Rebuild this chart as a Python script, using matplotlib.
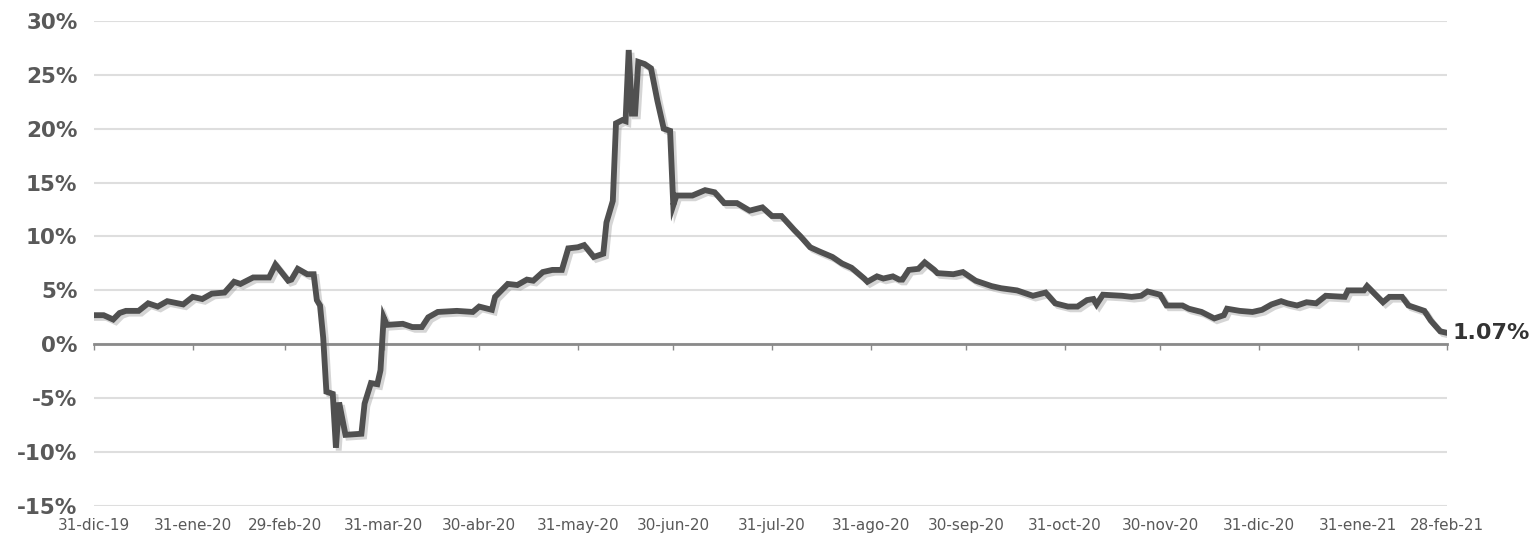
import matplotlib
matplotlib.use("Agg")
import matplotlib.pyplot as plt
import matplotlib.patheffects as pe
import pandas as pd

# fechas y variacion (%)
fechas = [
    "2019-12-31", "2020-01-03", "2020-01-06", "2020-01-08", "2020-01-10", "2020-01-14",
    "2020-01-17", "2020-01-20", "2020-01-23", "2020-01-28", "2020-01-31", "2020-02-03",
    "2020-02-06", "2020-02-10", "2020-02-13", "2020-02-15", "2020-02-19", "2020-02-24",
    "2020-02-26", "2020-03-01", "2020-03-02", "2020-03-04", "2020-03-07", "2020-03-09",
    "2020-03-10", "2020-03-11", "2020-03-12", "2020-03-13", "2020-03-15", "2020-03-16",
    "2020-03-17", "2020-03-19", "2020-03-24", "2020-03-25", "2020-03-27", "2020-03-29",
    "2020-03-30", "2020-03-31", "2020-04-01", "2020-04-06", "2020-04-09", "2020-04-12",
    "2020-04-14", "2020-04-17", "2020-04-23", "2020-04-28", "2020-04-30", "2020-05-04",
    "2020-05-05", "2020-05-09", "2020-05-12", "2020-05-15", "2020-05-17", "2020-05-20",
    "2020-05-23", "2020-05-26", "2020-05-28", "2020-05-31", "2020-06-02", "2020-06-05",
    "2020-06-08", "2020-06-09", "2020-06-11", "2020-06-12", "2020-06-14", "2020-06-15",
    "2020-06-16", "2020-06-17", "2020-06-18", "2020-06-19", "2020-06-21", "2020-06-23",
    "2020-06-25", "2020-06-27", "2020-06-29", "2020-06-30", "2020-07-01", "2020-07-06",
    "2020-07-10", "2020-07-13", "2020-07-16", "2020-07-20", "2020-07-24", "2020-07-28",
    "2020-07-31", "2020-08-03", "2020-08-07", "2020-08-09", "2020-08-12", "2020-08-15",
    "2020-08-19", "2020-08-22", "2020-08-25", "2020-08-29", "2020-08-30", "2020-09-02",
    "2020-09-04", "2020-09-07", "2020-09-09", "2020-09-10", "2020-09-12", "2020-09-15",
    "2020-09-17", "2020-09-20", "2020-09-21", "2020-09-26", "2020-09-29", "2020-10-03",
    "2020-10-06", "2020-10-08", "2020-10-11", "2020-10-16", "2020-10-21", "2020-10-25",
    "2020-10-28", "2020-11-01", "2020-11-04", "2020-11-07", "2020-11-09", "2020-11-10",
    "2020-11-12", "2020-11-18", "2020-11-21", "2020-11-24", "2020-11-26", "2020-11-30",
    "2020-12-02", "2020-12-07", "2020-12-09", "2020-12-13", "2020-12-17", "2020-12-20",
    "2020-12-21", "2020-12-25", "2020-12-29", "2021-01-01", "2021-01-04", "2021-01-07",
    "2021-01-09", "2021-01-12", "2021-01-15", "2021-01-18", "2021-01-21", "2021-01-27",
    "2021-01-28", "2021-02-02", "2021-02-03", "2021-02-06", "2021-02-08", "2021-02-10",
    "2021-02-14", "2021-02-16", "2021-02-21", "2021-02-23", "2021-02-26", "2021-02-28",
]
valores = [
    2.7, 2.7, 2.3, 2.9, 3.1, 3.1,
    3.8, 3.5, 4.0, 3.7, 4.4, 4.2,
    4.7, 4.8, 5.8, 5.6, 6.2, 6.2,
    7.4, 5.9, 6.0, 7.0, 6.5, 6.5,
    4.1, 3.6, 0.6, -4.4, -4.6, -9.6,
    -5.4, -8.4, -8.3, -5.5, -3.6, -3.7,
    -2.4, 2.5, 1.8, 1.9, 1.6, 1.6,
    2.5, 3.0, 3.1, 3.0, 3.5, 3.2,
    4.4, 5.6, 5.5, 6.0, 5.9, 6.7,
    6.9, 6.9, 8.9, 9.0, 9.2, 8.1,
    8.4, 11.3, 13.3, 20.5, 20.8, 20.7,
    27.3, 21.4, 21.4, 26.2, 26.0, 25.6,
    22.6, 20.0, 19.8, 12.9, 13.8, 13.8,
    14.3, 14.1, 13.1, 13.1, 12.4, 12.7,
    11.9, 11.9, 10.6, 10.0, 9.0, 8.6,
    8.1, 7.5, 7.1, 6.1, 5.8, 6.3,
    6.1, 6.3, 6.0, 6.0, 6.9, 7.0,
    7.6, 6.9, 6.6, 6.5, 6.7, 5.9,
    5.6, 5.4, 5.2, 5.0, 4.5, 4.8,
    3.8, 3.5, 3.5, 4.1, 4.2, 3.7,
    4.6, 4.5, 4.4, 4.5, 4.9, 4.6,
    3.6, 3.6, 3.3, 3.0, 2.4, 2.7,
    3.3, 3.1, 3.0, 3.2, 3.7, 4.0,
    3.8, 3.6, 3.9, 3.8, 4.5, 4.4,
    5.0, 5.0, 5.4, 4.5, 3.9, 4.4,
    4.4, 3.6, 3.1, 2.2, 1.2, 1.07,
]

tick_fechas = ["2019-12-31", "2020-01-31", "2020-02-29", "2020-03-31", "2020-04-30",
               "2020-05-31", "2020-06-30", "2020-07-31", "2020-08-31", "2020-09-30",
               "2020-10-31", "2020-11-30", "2020-12-31", "2021-01-31", "2021-02-28"]
tick_labels = ["31-dic-19", "31-ene-20", "29-feb-20", "31-mar-20", "30-abr-20",
               "31-may-20", "30-jun-20", "31-jul-20", "31-ago-20", "30-sep-20",
               "31-oct-20", "30-nov-20", "31-dic-20", "31-ene-21", "28-feb-21"]
y_ticks = [-15, -10, -5, 0, 5, 10, 15, 20, 25, 30]

x = pd.to_datetime(fechas)
xt = pd.to_datetime(tick_fechas)

plt.rcParams['font.family'] = ['DejaVu Sans']

fig = plt.figure(figsize=(15.37, 5.36), dpi=100)
ax = fig.add_axes([0.0612, 0.056, 0.88, 0.905])

ax.plot(x, valores, color='#505050', linewidth=4.2, solid_joinstyle='miter',
        path_effects=[pe.SimpleLineShadow(offset=(2, -2), shadow_color='#888888', alpha=0.35),
                      pe.Normal()], zorder=3)

ax.set_ylim(-15, 30)
ax.set_xlim(xt[0], xt[-1])
ax.set_yticks(y_ticks)
ax.set_yticklabels([f"{v}%" for v in y_ticks], fontsize=15.5, fontweight='bold', color='#595959')
ax.yaxis.grid(True, color='#dedede', linewidth=1.5)
ax.set_axisbelow(True)

for s in ['top', 'right', 'left']:
    ax.spines[s].set_visible(False)
ax.spines['bottom'].set_position(('data', 0))
ax.spines['bottom'].set_color('#8a8a8a')
ax.spines['bottom'].set_linewidth(2)
ax.spines['bottom'].set_zorder(2)

ax.set_xticks(xt)
ax.set_xticklabels(tick_labels, fontsize=11, color='#595959')
ax.tick_params(axis='x', length=4, width=1, color='#8a8a8a', pad=121)
ax.tick_params(axis='y', length=0, pad=12)

ax.text(1.004, valores[-1], "1.07%", transform=ax.get_yaxis_transform(),
        fontsize=16, fontweight='bold', color='#333333', va='center', ha='left')

fig.savefig("out.png", dpi=100, facecolor='white')
